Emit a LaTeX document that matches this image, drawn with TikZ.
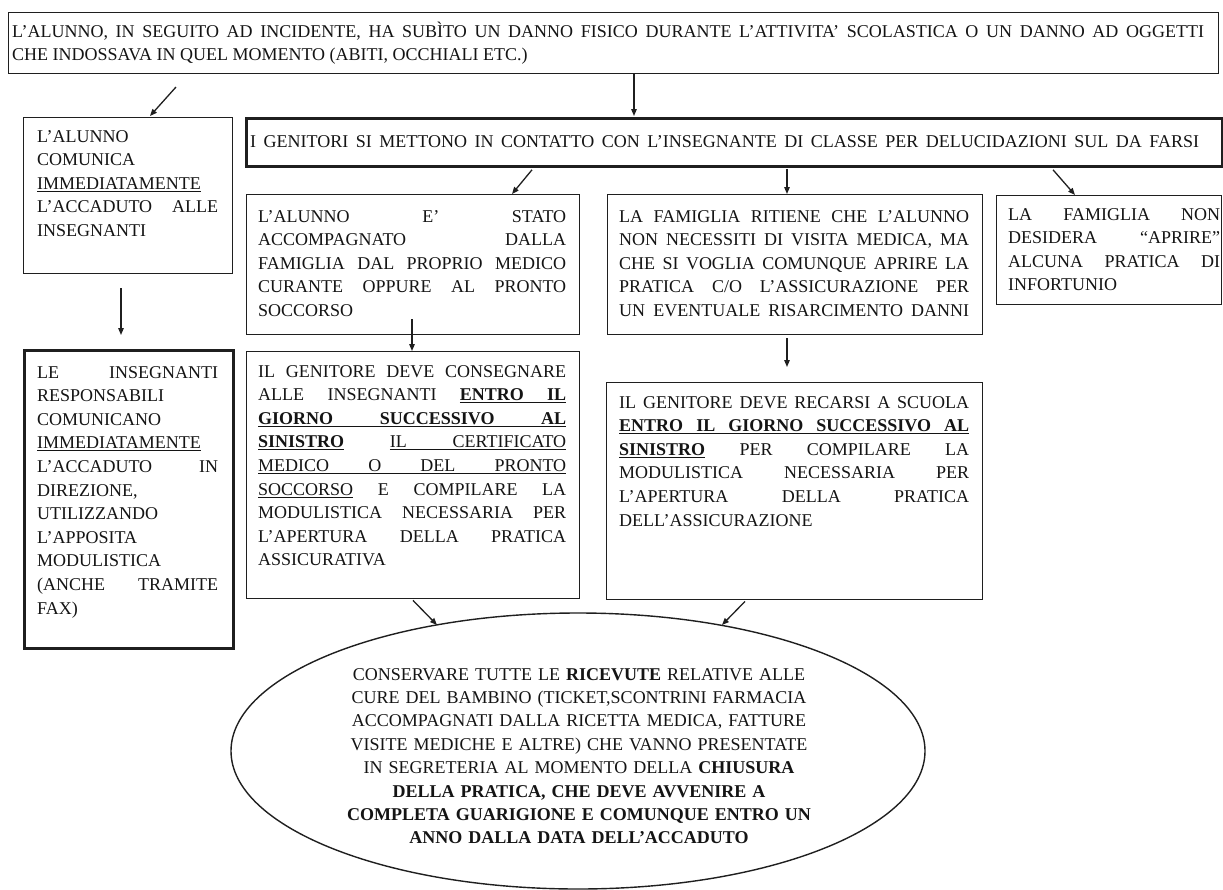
\documentclass[tikz,border=0pt]{standalone}
\usepackage{fontspec}
\setmainfont{Liberation Serif}
\usetikzlibrary{arrows.meta,calc,shapes.geometric}
\newsavebox\ulbox
\newcommand\uw[1]{\leavevmode\sbox\ulbox{#1}\rlap{\rule[-2.6pt]{\wd\ulbox}{1pt}}\usebox\ulbox}
\newcommand\us{\leaders\hrule height -1.6pt depth 2.6pt\hskip\fontdimen2\font plus\fontdimen3\font minus\fontdimen4\font\relax}
\newcommand\jl[1]{\makebox[\linewidth][s]{#1}\par}
\tikzset{
  thinbox/.style={draw=black!88, line width=1.4pt, rectangle, inner sep=0pt, anchor=north west},
  thickbox/.style={thinbox, line width=2.8pt},
  txt/.style={inner sep=0pt, anchor=base west, align=justify, font=\fontsize{18}{23.6}\selectfont, text=black!92},
  etxt/.style={inner sep=0pt, anchor=base, align=center, text width=540pt, font=\fontsize{18}{23.4}\selectfont, text=black!92},
  arr/.style={-{Triangle[length=7pt,width=5.5pt]}, line width=1.3pt, draw=black!88},
}
\begin{document}
\begin{tikzpicture}[x=1pt,y=-1pt]
\useasboundingbox (0,0) rectangle (1223,889);
\fill[white] (0,0) rectangle (1223,889);

% boxes
\node[thinbox, minimum width=1210pt, minimum height=61pt] (top) at (8,12) {};
\node[thinbox, minimum width=209pt, minimum height=156pt] (L1) at (23,117) {};
\node[thickbox, minimum width=209pt, minimum height=298pt] (L2) at (23,349) {};
\node[thickbox, minimum width=976pt, minimum height=48pt] (G) at (245,117) {};
\node[thinbox, minimum width=333pt, minimum height=140pt] (A) at (246,194) {};
\node[thinbox, minimum width=333pt, minimum height=247pt] (B) at (246,351) {};
\node[thinbox, minimum width=375pt, minimum height=140pt] (C) at (607,194) {};
\node[thinbox, minimum width=376pt, minimum height=217pt] (D) at (606,382) {};
\node[thinbox, minimum width=225pt, minimum height=109pt] (E) at (996,195) {};
\node[draw=black!88, line width=1.4pt, ellipse, minimum width=694pt, minimum height=276pt, inner sep=0pt] (Ell) at (578,751) {};

% texts
\node[txt, text width=1192pt] (topt) at (12,37) {%
\jl{L'ALUNNO, IN SEGUITO AD INCIDENTE, HA SUBÌTO UN DANNO FISICO DURANTE L'ATTIVITA' SCOLASTICA O UN DANNO AD OGGETTI}
CHE INDOSSAVA IN QUEL MOMENTO (ABITI, OCCHIALI ETC.)};

\node[txt, text width=949pt] (Gt) at (250,147) {%
\jl{I GENITORI SI METTONO IN CONTATTO CON L'INSEGNANTE DI CLASSE PER DELUCIDAZIONI SUL DA FARSI}};

\node[txt, text width=181pt] (L1t) at (37,142) {%
L'ALUNNO\par
COMUNICA\par
\uw{IMMEDIATAMENTE}\par
\jl{L'ACCADUTO ALLE}
INSEGNANTI};

\node[txt, text width=181pt] (L2t) at (37,378) {%
\jl{LE INSEGNANTI}
RESPONSABILI\par
COMUNICANO\par
\uw{IMMEDIATAMENTE}\par
\jl{L'ACCADUTO IN}
DIREZIONE,\par
UTILIZZANDO\par
L'APPOSITA\par
MODULISTICA\par
\jl{(ANCHE TRAMITE}
FAX)};

\node[txt, text width=308pt] (At) at (258,222) {%
\jl{L'ALUNNO E' STATO}
\jl{ACCOMPAGNATO DALLA}
\jl{FAMIGLIA DAL PROPRIO MEDICO}
\jl{CURANTE OPPURE AL PRONTO}
SOCCORSO};

\node[txt, text width=308pt] (Bt) at (258,377) {%
\jl{IL GENITORE DEVE CONSEGNARE}
\jl{ALLE INSEGNANTI {\bfseries\uw{ENTRO}\us\uw{IL}}}
\jl{\bfseries\uw{GIORNO}\us\uw{SUCCESSIVO}\us\uw{AL}}
\jl{{\bfseries\uw{SINISTRO}} \uw{IL}\us\uw{CERTIFICATO}}
\jl{\uw{MEDICO}\us\uw{O}\us\uw{DEL}\us\uw{PRONTO}}
\jl{\uw{SOCCORSO} E COMPILARE LA}
\jl{MODULISTICA NECESSARIA PER}
\jl{L'APERTURA DELLA PRATICA}
ASSICURATIVA};

\node[txt, text width=350pt] (Ct) at (619,222) {%
\jl{LA FAMIGLIA RITIENE CHE L'ALUNNO}
\jl{NON NECESSITI DI VISITA MEDICA, MA}
\jl{CHE SI VOGLIA COMUNQUE APRIRE LA}
\jl{PRATICA C/O L'ASSICURAZIONE PER}
\jl{UN EVENTUALE RISARCIMENTO DANNI}};

\node[txt, text width=350pt] (Dt) at (619,408) {%
\jl{IL GENITORE DEVE RECARSI A SCUOLA}
\jl{\bfseries\uw{ENTRO}\us\uw{IL}\us\uw{GIORNO}\us\uw{SUCCESSIVO}\us\uw{AL}}
\jl{{\bfseries\uw{SINISTRO}} PER COMPILARE LA}
\jl{MODULISTICA NECESSARIA PER}
\jl{L'APERTURA DELLA PRATICA}
DELL'ASSICURAZIONE};

\node[txt, text width=212pt] (Et) at (1008,220) {%
\jl{LA FAMIGLIA NON}
\jl{DESIDERA ``APRIRE''}
\jl{ALCUNA PRATICA DI}
INFORTUNIO};

\node[etxt] (Ellt) at (579,680) {%
CONSERVARE TUTTE LE \textbf{RICEVUTE} RELATIVE ALLE\\
CURE DEL BAMBINO (TICKET,SCONTRINI FARMACIA\\
ACCOMPAGNATI DALLA RICETTA MEDICA, FATTURE\\
VISITE MEDICHE E ALTRE) CHE VANNO PRESENTATE\\
IN SEGRETERIA AL MOMENTO DELLA \textbf{CHIUSURA}\\
\textbf{DELLA PRATICA, CHE DEVE AVVENIRE A}\\
\textbf{COMPLETA GUARIGIONE E COMUNQUE ENTRO UN}\\
\textbf{ANNO DALLA DATA DELL'ACCADUTO}};

% connectors
\coordinate (a0s) at (176,87);
\draw[arr] (a0s) -- ($(L1.north west)+(127,-1)$);
\draw[arr] ($(top.south west)+(626,0)$) -- ($(G.north west)+(389,-1)$);
\draw[arr] ($(L1.south west)+(98,14)$) -- ($(L2.north west)+(98,-14)$);
\draw[arr] ($(G.south west)+(287,2)$) -- ($(A.north west)+(266,0)$);
\draw[arr] ($(G.south west)+(542,1)$) -- ($(C.north west)+(180,0)$);
\draw[arr] ($(G.south west)+(808,2)$) -- ($(E.north west)+(79,0)$);
\draw[arr] ($(A.south west)+(166,-16)$) -- ($(B.north west)+(166,0)$);
\draw[arr] ($(C.south west)+(180,3)$) -- ($(D.north west)+(181,-15)$);
\draw[arr] ($(B.south west)+(167,1)$) -- ($(Ell.center)+(-141,-126)$);
\draw[arr] ($(D.south west)+(139,1)$) -- ($(Ell.center)+(144,-126)$);
\end{tikzpicture}
\end{document}
